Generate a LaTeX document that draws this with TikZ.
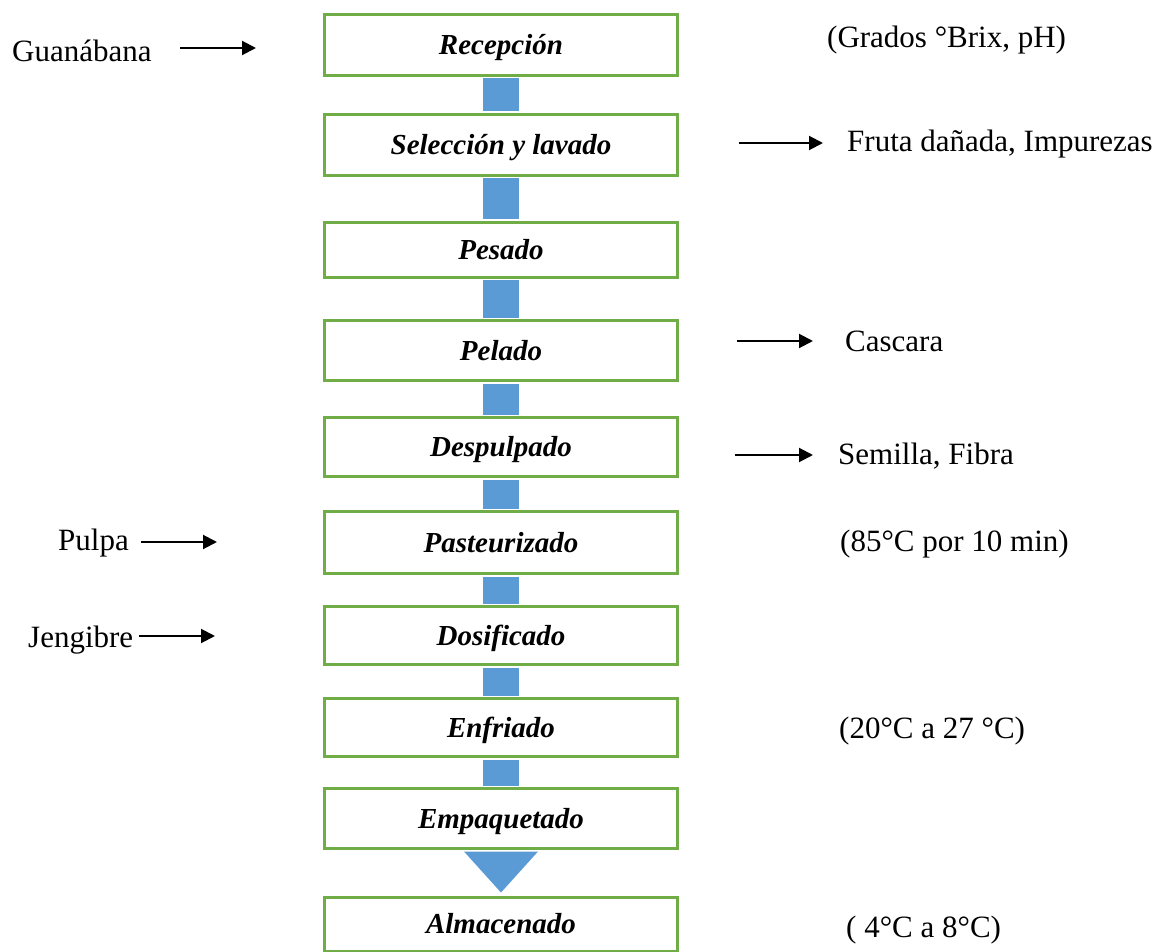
\documentclass[tikz,border=0pt]{standalone}
\usepackage{fontspec}
\setmainfont{Liberation Serif}
\usetikzlibrary{arrows.meta,calc}
\definecolor{boxgreen}{HTML}{70AD47}
\definecolor{flowblue}{HTML}{5B9BD5}
\begin{document}
\begin{tikzpicture}[x=1pt,y=-1pt,
  stepbox/.style={draw=boxgreen, line width=3pt, fill=white, minimum width=353pt,
    inner sep=0pt, text height=19pt, text depth=0pt,
    font=\fontsize{29}{34}\selectfont\bfseries\itshape},
  sidetext/.style={anchor=base west, inner sep=0pt, font=\fontsize{31}{36}\selectfont},
  arr/.style={line width=2pt, -{Triangle[length=14pt,width=14pt]}},
  flow/.style={draw=flowblue, line width=36pt, line cap=butt}]
\useasboundingbox (0,0) rectangle (1168,952);
\fill[white] (0,0) rectangle (1168,952);

% boxes
\node[stepbox, minimum height=61pt] (b1) at (501,45) {Recepción};
\node[stepbox, minimum height=61pt] (b2) at (501,145) {Selección y lavado};
\node[stepbox, minimum height=55pt] (b3) at (501,250) {Pesado};
\node[stepbox, minimum height=60pt] (b4) at (501,350.5) {Pelado};
\node[stepbox, minimum height=59pt] (b5) at (501,447) {Despulpado};
\node[stepbox, minimum height=62pt] (b6) at (501,542.5) {Pasteurizado};
\node[stepbox, minimum height=58pt] (b7) at (501,635.5) {Dosificado};
\node[stepbox, minimum height=58pt] (b8) at (501,727.5) {Enfriado};
\node[stepbox, minimum height=60pt] (b9) at (501,818.5) {Empaquetado};
\node[stepbox, minimum height=54pt] (b10) at (501,924) {Almacenado};

% blue flow connectors
\draw[flow] ([yshift=-1.5pt]b1.south) -- ([yshift=1.5pt]b2.north);
\draw[flow] ([yshift=-1.5pt]b2.south) -- ([yshift=1.5pt]b3.north);
\draw[flow] ([yshift=-1.5pt]b3.south) -- ([yshift=1.5pt]b4.north);
\draw[flow] ([yshift=-1.5pt]b4.south) -- ([yshift=1.5pt]b5.north);
\draw[flow] ([yshift=-1.5pt]b5.south) -- ([yshift=1.5pt]b6.north);
\draw[flow] ([yshift=-1.5pt]b6.south) -- ([yshift=1.5pt]b7.north);
\draw[flow] ([yshift=-1.5pt]b7.south) -- ([yshift=1.5pt]b8.north);
\draw[flow] ([yshift=-1.5pt]b8.south) -- ([yshift=1.5pt]b9.north);
\fill[flowblue] ($(b9.south)+(-37,1.5)$) -- ($(b9.south)+(37,1.5)$) -- ($(b10.north)+(0,-3)$) -- cycle;

% left inputs
\node[sidetext] (gua) at (12,62) {Guanábana};
\coordinate (ga) at (180,48); \coordinate (gb) at (256,48);
\draw[arr] (ga) -- (gb);
\node[sidetext] (pul) at (58,550) {Pulpa};
\coordinate (pa) at (141,542); \coordinate (pb) at (217,542);
\draw[arr] (pa) -- (pb);
\node[sidetext] (jen) at (28,647) {Jengibre};
\coordinate (ja) at (139,636); \coordinate (jb) at (215,636);
\draw[arr] (ja) -- (jb);

% right side
\node[sidetext] (gra) at (827,48) {(Grados °Brix, pH)};
\coordinate (fa) at (739,143); \coordinate (fb) at (823,143);
\draw[arr] (fa) -- (fb);
\node[sidetext] (fru) at (847,152) {Fruta dañada, Impurezas};
\coordinate (ca) at (737,341); \coordinate (cb) at (813,341);
\draw[arr] (ca) -- (cb);
\node[sidetext] (cas) at (845,351) {Cascara};
\coordinate (sa) at (735,455); \coordinate (sb) at (813,455);
\draw[arr] (sa) -- (sb);
\node[sidetext] (sem) at (838,464) {Semilla, Fibra};
\node[sidetext] (t85) at (840,551) {(85°C por 10 min)};
\node[sidetext] (t20) at (839,738) {(20°C a 27 °C)};
\node[sidetext] (t4) at (846,937) {( 4°C a 8°C)};
\end{tikzpicture}
\end{document}
